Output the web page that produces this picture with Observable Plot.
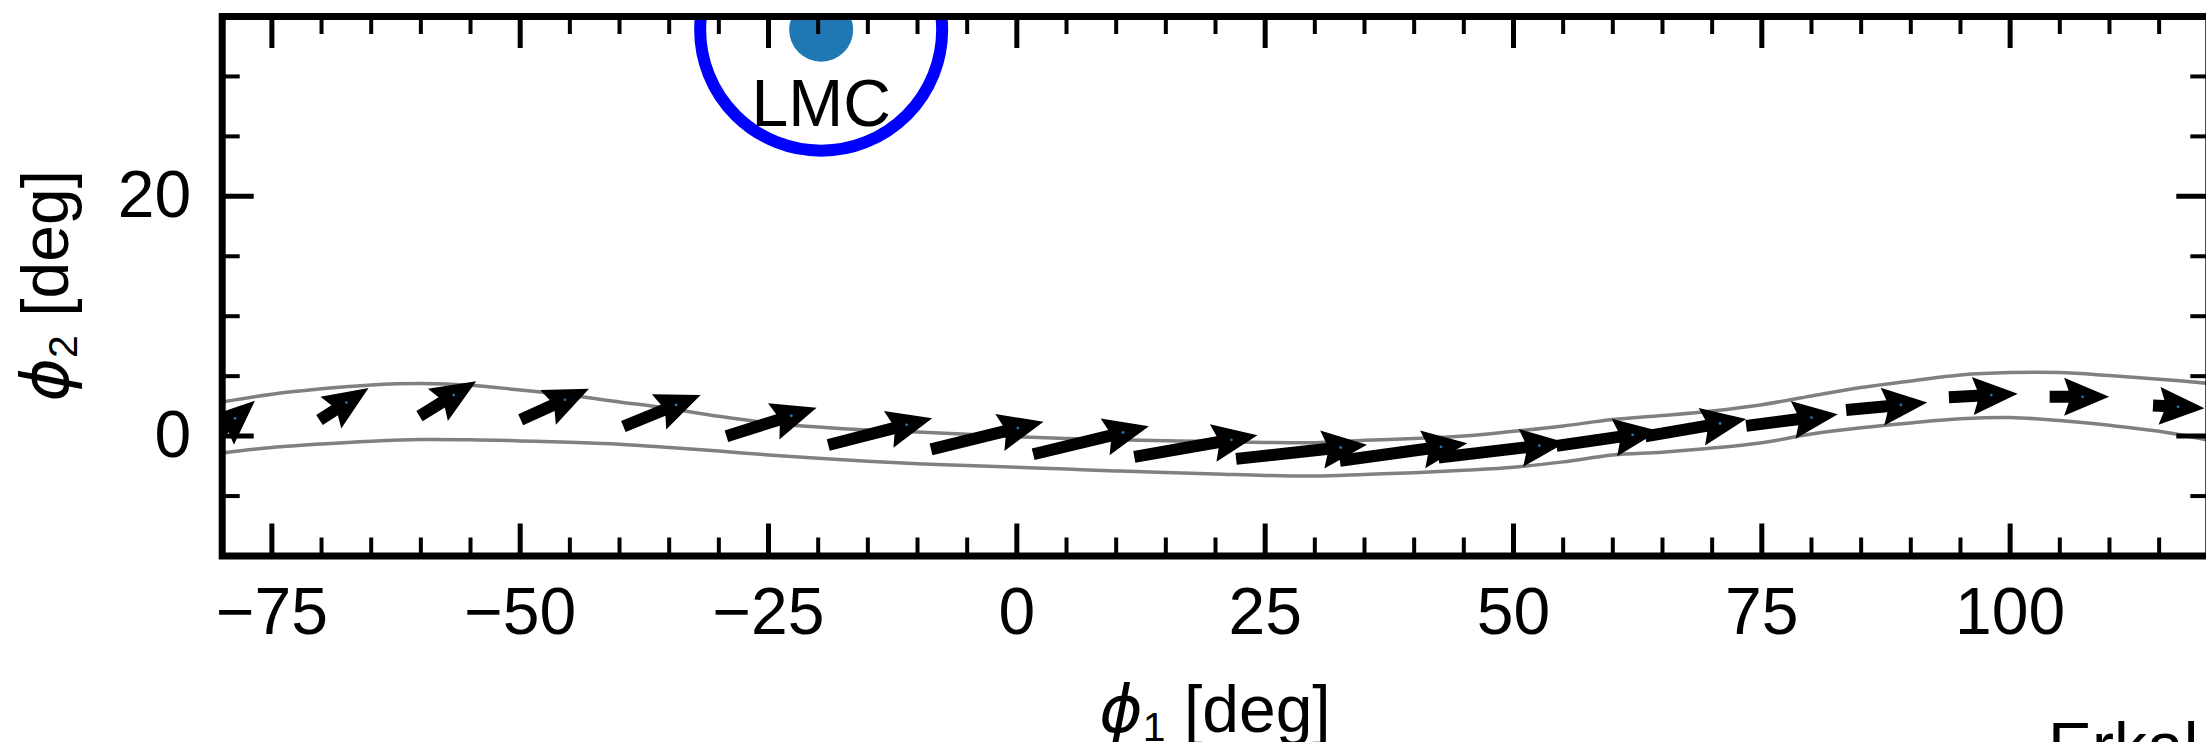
<!DOCTYPE html>
<html>
<head>
<meta charset="utf-8">
<script src="https://cdn.jsdelivr.net/npm/d3@7"></script>
<script src="https://cdn.jsdelivr.net/npm/@observablehq/plot@0.6"></script>
<style>
  html, body { margin: 0; padding: 0; background: #fff; overflow: hidden; }
  #chart { position: relative; width: 2206px; height: 742px; overflow: hidden; background: #fff; }
</style>
</head>
<body>
<div id="chart"></div>
<script>
// ---------------- data ----------------
const xDomain = [-80, 120];
const yDomain = [-10, 35];
const xMajorTicks = [-75, -50, -25, 0, 25, 50, 75, 100];
const xMinorTicks = [-70, -65, -60, -55, -45, -40, -35, -30, -20, -15, -10, -5, 5, 10, 15, 20, 30, 35, 40, 45, 55, 60, 65, 70, 80, 85, 90, 95, 105, 110, 115];
const yMajorTicks = [0, 20];
const yMinorTicks = [-5, 5, 10, 15, 25, 30];

// stream track boundaries
const edgePhi1 = [-80, -75, -70, -65, -60, -55, -50, -45, -40, -35, -30, -25, -20, -15, -10, -5, 0, 5, 10, 15, 20, 25, 30, 35, 40, 45, 50, 55, 60, 65, 70, 75, 80, 85, 90, 95, 100, 105, 110, 115, 120];
const upperPhi2 = [2.85, 3.5, 3.95, 4.27, 4.39, 4.25, 3.85, 3.4, 2.85, 2.3, 1.65, 1.1, 0.75, 0.5, 0.35, 0.15, -0.05, -0.2, -0.3, -0.39, -0.45, -0.53, -0.55, -0.35, -0.2, 0.0, 0.4, 0.85, 1.38, 1.72, 2.1, 2.62, 3.35, 4.05, 4.6, 5.1, 5.3, 5.3, 5.05, 4.75, 4.4];
const lowerPhi2 = [-1.4, -0.95, -0.65, -0.42, -0.28, -0.3, -0.4, -0.52, -0.68, -0.95, -1.25, -1.57, -1.85, -2.1, -2.3, -2.45, -2.6, -2.75, -2.9, -3.03, -3.15, -3.28, -3.33, -3.2, -3.05, -2.85, -2.6, -2.15, -1.58, -1.35, -1.0, -0.55, 0.17, 0.69, 1.1, 1.44, 1.55, 1.3, 0.9, 0.4, -0.35];

// stream track points and motion vectors (deg)
const trackPhi1 = [-78.7, -67.5, -56.7, -45.5, -34.3, -22.7, -11.1, 0.1, 10.7, 21.6, 32.6, 42.7, 52.6, 62.0, 70.8, 80.0, 89.0, 98.1, 107.3, 116.9];
const trackPhi2 = [1.48, 2.8, 3.42, 3.03, 2.6, 1.7, 0.94, 0.67, 0.3, -0.31, -0.95, -0.9, -0.8, 0.11, 1.05, 1.55, 2.6, 3.42, 3.28, 2.44];
const arrowDPhi1 = [4.2, 4.94, 5.71, 6.88, 7.78, 9.08, 10.47, 11.33, 11.65, 12.40, 13.18, 12.82, 12.79, 10.30, 10.16, 9.22, 8.17, 6.93, 5.99, 5.18];
const arrowDPhi2 = [3.1, 2.67, 2.92, 2.58, 2.64, 2.37, 2.23, 2.30, 2.33, 1.81, 1.19, 1.45, 1.25, 1.25, 1.45, 0.98, 0.63, 0.28, 0.0, -0.23];

// satellite
const satName = ["LMC"];
const satPhi1 = [-19.7];
const satPhi2 = [33.9];
const satLabelPhi2 = [27.6];

// ---------------- layout ----------------
const W = 2260, H = 800;
const mL = 221.7, mR = W - 2208.3, mT = 16, mB = H - 555.5;
const FW = W - mL - mR, FH = H - mT - mB;
const kx = FW / (xDomain[1] - xDomain[0]);
const ky = FH / (yDomain[1] - yDomain[0]);
const FONT = "'Liberation Sans', Arial, Helvetica, sans-serif";
const FS = 66;

const upper = edgePhi1.map((p, i) => ({phi1: p, phi2: upperPhi2[i]}));
const lower = edgePhi1.map((p, i) => ({phi1: p, phi2: lowerPhi2[i]}));
const arrows = trackPhi1.map((p, i) => {
  const dx = arrowDPhi1[i] * kx, dy = arrowDPhi2[i] * ky;
  return {phi1: p, phi2: trackPhi2[i], len: Math.hypot(dx, dy), rot: Math.atan2(dx, dy) * 180 / Math.PI};
});
const sats = satName.map((n, i) => ({name: n, phi1: satPhi1[i], phi2: satPhi2[i], lphi2: satLabelPhi2[i]}));

// matplotlib-like quiver arrow, tip placed a fixed distance ahead of the point
const quiverShape = {
  draw(ctx, l) {
    const w = 12 / 2, hw = 19, hl = 45, hal = 40.5, tipOff = 26.5;
    const t = -tipOff, tail = l - tipOff;
    ctx.moveTo(-w, tail);
    ctx.lineTo(-w, t + hal);
    ctx.lineTo(-hw, t + hl);
    ctx.lineTo(0, t);
    ctx.lineTo(hw, t + hl);
    ctx.lineTo(w, t + hal);
    ctx.lineTo(w, tail);
    ctx.closePath();
  }
};

const fmt = d => d < 0 ? "\u2212" + Math.abs(d) : String(d);

const plot = Plot.plot({
  width: W, height: H,
  marginLeft: mL, marginRight: mR, marginTop: mT, marginBottom: mB,
  x: {domain: xDomain},
  y: {domain: yDomain},
  length: {type: "linear", domain: [0, 1], range: [0, 1]},
  style: {fontFamily: FONT, background: "white", maxWidth: "none", overflow: "visible"},
  marks: [
    // stream edges
    Plot.line(upper, {x: "phi1", y: "phi2", stroke: "#808080", strokeWidth: 3.5, curve: "catmull-rom", clip: true}),
    Plot.line(lower, {x: "phi1", y: "phi2", stroke: "#808080", strokeWidth: 3.5, curve: "catmull-rom", clip: true}),
    // arrows
    Plot.vector(arrows, {x: "phi1", y: "phi2", length: "len", rotate: "rot", anchor: "start", shape: quiverShape, fill: "black", stroke: "none", clip: true}),
    Plot.dot(arrows, {x: "phi1", y: "phi2", r: 1.4, fill: "#1f77b4", stroke: "none", clip: true}),
    // LMC
    Plot.dot(sats, {x: "phi1", y: "phi2", r: 32, fill: "#1f77b4", stroke: "none", clip: true}),
    Plot.dot(sats, {x: "phi1", y: "phi2", r: 121, fill: "none", stroke: "#0000ff", strokeWidth: 12, clip: true}),
    Plot.text(sats, {x: "phi1", y: "lphi2", text: "name", fontSize: FS, fontFamily: FONT, fill: "black"}),
    // inward ticks
    Plot.ruleX(xMajorTicks, {insetTop: FH - 32, stroke: "black", strokeWidth: 5}),
    Plot.ruleX(xMajorTicks, {insetBottom: FH - 32, stroke: "black", strokeWidth: 5}),
    Plot.ruleX(xMinorTicks, {insetTop: FH - 18, stroke: "black", strokeWidth: 4}),
    Plot.ruleX(xMinorTicks, {insetBottom: FH - 18, stroke: "black", strokeWidth: 4}),
    Plot.ruleY(yMajorTicks, {insetRight: FW - 32, stroke: "black", strokeWidth: 5}),
    Plot.ruleY(yMajorTicks, {insetLeft: FW - 32, stroke: "black", strokeWidth: 5}),
    Plot.ruleY(yMinorTicks, {insetRight: FW - 18, stroke: "black", strokeWidth: 4}),
    Plot.ruleY(yMinorTicks, {insetLeft: FW - 18, stroke: "black", strokeWidth: 4}),
    // tick labels
    Plot.axisX(xMajorTicks, {anchor: "bottom", tickSize: 0, tickPadding: 31.5, fontSize: FS, tickFormat: fmt, label: null}),
    Plot.axisY(yMajorTicks, {anchor: "left", tickSize: 0, tickPadding: 31, fontSize: FS, tickFormat: fmt, label: null}),
    Plot.frame({stroke: "black", strokeWidth: 7})
  ]
});

const svg = d3.select(plot);
// x axis label
const xl = svg.append("text")
  .attr("x", mL + FW / 2).attr("y", 731.7)
  .attr("text-anchor", "middle").attr("font-size", FS).attr("font-family", FONT).attr("fill", "black");
xl.append("tspan").attr("font-family", "'DejaVu Sans', sans-serif").attr("font-style", "italic").attr("fill", "black").text("\u03D5");
xl.append("tspan").attr("font-size", FS * 0.62).attr("dy", 9).attr("fill", "black").text("1");
xl.append("tspan").attr("dy", -9).attr("fill", "black").text(" [deg]");
// y axis label
const yl = svg.append("text")
  .attr("transform", `translate(68,${mT + FH / 2}) rotate(-90)`)
  .attr("text-anchor", "middle").attr("font-size", FS).attr("font-family", FONT).attr("fill", "black");
yl.append("tspan").attr("font-family", "'DejaVu Sans', sans-serif").attr("font-style", "italic").attr("fill", "black").text("\u03D5");
yl.append("tspan").attr("font-size", FS * 0.62).attr("dy", 9).attr("fill", "black").text("2");
yl.append("tspan").attr("dy", -9).attr("fill", "black").text(" [deg]");
// cut-off credit text at lower right
svg.append("text").attr("x", 2048).attr("y", 769).attr("text-anchor", "start")
  .attr("font-size", FS).attr("font-family", FONT).attr("fill", "black").text("Erkal");

document.getElementById("chart").appendChild(plot);
</script>
</body>
</html>
